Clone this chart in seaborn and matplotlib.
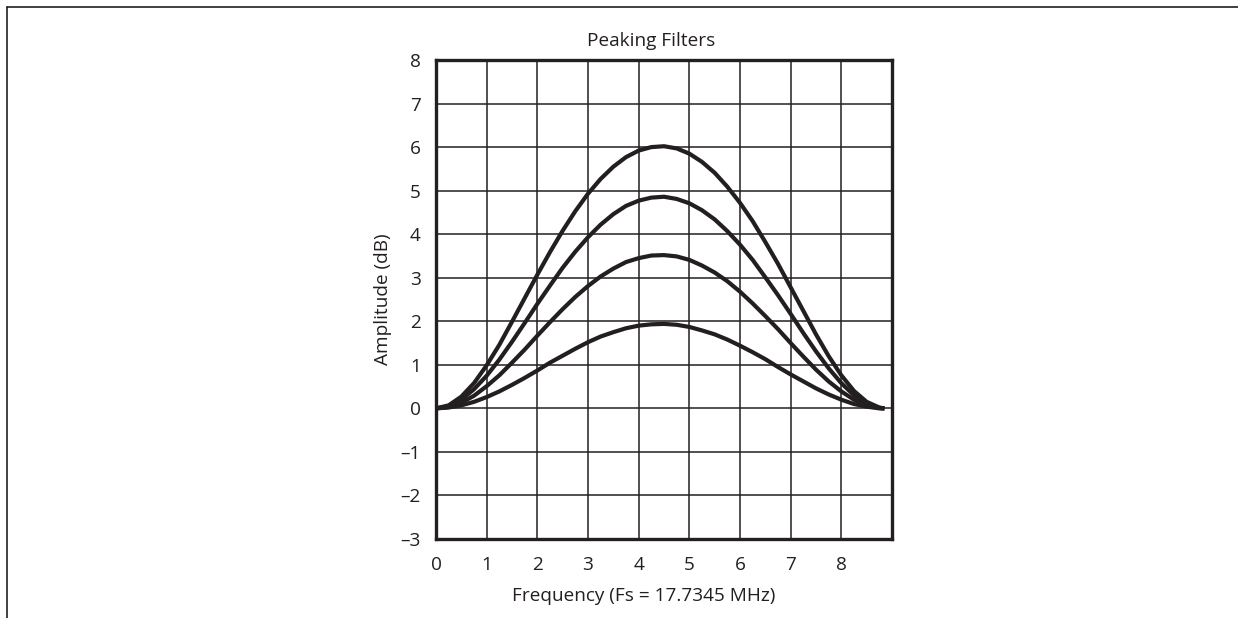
import numpy as np
import pandas as pd
import matplotlib
matplotlib.use('Agg')
import matplotlib.pyplot as plt
import seaborn as sns
from matplotlib.lines import Line2D

# frequency points (MHz)
freq = [0, 0.25, 0.5, 0.75, 1, 1.25, 1.5, 1.75, 2, 2.25, 2.5, 2.75, 3, 3.25,
        3.5, 3.75, 4, 4.25, 4.5, 4.75, 5, 5.25, 5.5, 5.75, 6, 6.25, 6.5, 6.75,
        7, 7.25, 7.5, 7.75, 8, 8.25, 8.5, 8.75, 8.85]

# amplitude (dB) of the four peaking filters
gain_6db = [0, 0.07, 0.27, 0.58, 0.99, 1.46, 1.99, 2.53, 3.07, 3.59, 4.08, 4.53,
            4.93, 5.27, 5.55, 5.77, 5.92, 6.00, 6.02, 5.97, 5.85, 5.66, 5.41,
            5.09, 4.72, 4.30, 3.82, 3.32, 2.78, 2.24, 1.70, 1.20, 0.76, 0.40,
            0.15, 0.02, 0]
gain_49db = [0, 0.05, 0.20, 0.44, 0.75, 1.12, 1.53, 1.96, 2.40, 2.82, 3.23, 3.60,
             3.93, 4.22, 4.46, 4.65, 4.77, 4.84, 4.86, 4.81, 4.71, 4.55, 4.34,
             4.07, 3.76, 3.41, 3.01, 2.60, 2.17, 1.73, 1.31, 0.92, 0.58, 0.30,
             0.11, 0.01, 0]
gain_35db = [0, 0.03, 0.13, 0.29, 0.51, 0.76, 1.05, 1.35, 1.67, 1.98, 2.28, 2.56,
             2.81, 3.03, 3.21, 3.36, 3.45, 3.51, 3.52, 3.49, 3.41, 3.28, 3.12,
             2.92, 2.68, 2.41, 2.12, 1.82, 1.50, 1.19, 0.89, 0.62, 0.39, 0.20,
             0.07, 0.01, 0]
gain_19db = [0, 0.02, 0.07, 0.15, 0.26, 0.39, 0.54, 0.70, 0.87, 1.05, 1.21, 1.37,
             1.52, 1.65, 1.75, 1.84, 1.90, 1.93, 1.94, 1.92, 1.87, 1.79, 1.70,
             1.58, 1.44, 1.29, 1.13, 0.95, 0.78, 0.62, 0.46, 0.32, 0.20, 0.10,
             0.04, 0.00, 0]

x_ticks = [0, 1, 2, 3, 4, 5, 6, 7, 8]
y_ticks = [-3, -2, -1, 0, 1, 2, 3, 4, 5, 6, 7, 8]

ink = '#231f20'
fs = 13.7

sns.set_theme(style='white')
plt.rcParams['font.family'] = ['Open Sans', 'DejaVu Sans']

rows = []
for name, vals in [('6 dB', gain_6db), ('4.9 dB', gain_49db),
                   ('3.5 dB', gain_35db), ('1.9 dB', gain_19db)]:
    for f, g in zip(freq, vals):
        rows.append({'freq': f, 'gain': g, 'filter': name})
df = pd.DataFrame(rows)

fig = plt.figure(figsize=(12.38, 6.18), dpi=100)
ax = fig.add_axes([0.3522, 0.1278, 0.3683, 0.7751])

sns.lineplot(data=df, x='freq', y='gain', hue='filter', units='filter',
             estimator=None, palette=[ink] * 4, legend=False, linewidth=3,
             sort=False, ax=ax, zorder=3, solid_joinstyle='round',
             solid_capstyle='butt')

ax.set_xlim(0, 9)
ax.set_ylim(-3, 8)
ax.set_xticks(x_ticks)
ax.set_yticks(y_ticks)
ax.set_xticklabels([str(v) for v in x_ticks])
ax.set_yticklabels([str(v).replace('-', '\u2013') for v in y_ticks])
ax.tick_params(axis='both', length=0, labelsize=fs, colors=ink)
ax.tick_params(axis='x', pad=12)
ax.tick_params(axis='y', pad=11)
ax.grid(True, color=ink, linewidth=1.1)
for s in ax.spines.values():
    s.set_color(ink)
    s.set_linewidth(2.4)

ax.set_xlabel('')
ax.set_ylabel('Amplitude (dB)', fontsize=fs, color=ink, labelpad=6)
ax.text(4.1 / 9, -0.129, 'Frequency (Fs = 17.7345 MHz)', transform=ax.transAxes,
        ha='center', va='baseline', fontsize=fs, color=ink)
ax.text(4.25 / 9, 1.029, 'Peaking Filters', transform=ax.transAxes,
        ha='center', va='baseline', fontsize=fs, color=ink)

# outer frame (top and left edges)
fig.add_artist(Line2D([7 / 1238, 1], [1 - 6.5 / 618] * 2, color=ink, linewidth=1.2,
                      transform=fig.transFigure))
fig.add_artist(Line2D([7 / 1238] * 2, [0, 1 - 6.5 / 618], color=ink, linewidth=1.2,
                      transform=fig.transFigure))

fig.savefig('out.png', dpi=100)
